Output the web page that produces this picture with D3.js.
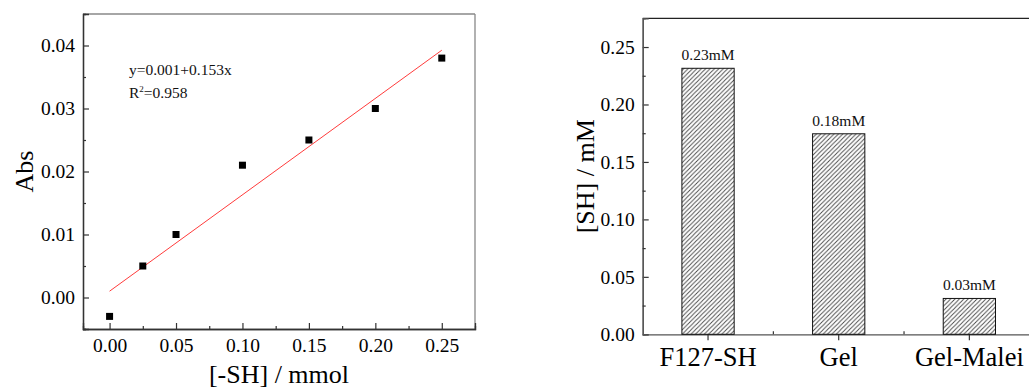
<!DOCTYPE html>
<html>
<head>
<meta charset="utf-8">
<script src="https://cdn.jsdelivr.net/npm/d3@7.9.0/dist/d3.min.js"></script>
<style>
  body { margin: 0; background: #fff; }
  svg text { font-family: 'Liberation Serif', 'Times New Roman', serif; }
</style>
</head>
<body>
<svg id="chart" width="1029" height="391"></svg>
<script>
// calibration data (left)
const shConc = [0, 0.025, 0.05, 0.1, 0.15, 0.2, 0.25];
const absVals = [-0.003, 0.005, 0.01, 0.021, 0.025, 0.03, 0.038];
const fitIntercept = 0.001;
const fitSlope = 0.153;
const xTicks = [0, 0.05, 0.1, 0.15, 0.2, 0.25];
const yTicks = [0, 0.01, 0.02, 0.03, 0.04];

// thiol content (right)
const samples = ['F127-SH', 'Gel', 'Gel-Malei'];
const shContent = [0.2315, 0.1745, 0.0312];
const barLabels = ['0.23mM', '0.18mM', '0.03mM'];
const barTicks = [0, 0.05, 0.1, 0.15, 0.2, 0.25];

const serif = "'Liberation Serif', 'Times New Roman', serif";
const svg = d3.select('#chart');

const defs = svg.append('defs');
defs.append('pattern')
  .attr('id', 'hatch')
  .attr('patternUnits', 'userSpaceOnUse')
  .attr('width', 4.4)
  .attr('height', 4.4)
  .append('path')
  .attr('d', 'M-1.1,1.1 l2.2,-2.2 M0,4.4 l4.4,-4.4 M3.3,5.5 l2.2,-2.2')
  .attr('stroke', '#444')
  .attr('stroke-width', 0.9);

// ---------- left: scatter + fit ----------
const L = { left: 83, right: 475, top: 14, bottom: 329 };
const x = d3.scaleLinear().domain([-0.02, 0.275]).range([L.left, L.right]);
const y = d3.scaleLinear().domain([-0.005, 0.045]).range([L.bottom, L.top]);

const gl = svg.append('g');

// frame
gl.append('line').attr('x1', L.left).attr('x2', L.right).attr('y1', L.top).attr('y2', L.top)
  .attr('stroke', '#888').attr('stroke-width', 1.3);
gl.append('line').attr('x1', L.right).attr('x2', L.right).attr('y1', L.top).attr('y2', L.bottom)
  .attr('stroke', '#888').attr('stroke-width', 1.3);

gl.append('g').attr('transform', `translate(${L.left},0)`)
  .call(d3.axisLeft(y).tickValues(yTicks).tickSize(-6).tickPadding(8).tickFormat(d3.format('.2f')));
gl.append('g').attr('transform', `translate(${L.left},0)`)
  .call(d3.axisLeft(y).tickValues(d3.range(-0.005, 0.045, 0.01)).tickSize(-3).tickFormat(''));
gl.append('g').attr('transform', `translate(0,${L.bottom})`)
  .call(d3.axisBottom(x).tickValues(xTicks).tickSize(-6).tickPadding(9).tickFormat(d3.format('.2f')));
gl.append('g').attr('transform', `translate(0,${L.bottom})`)
  .call(d3.axisBottom(x).tickValues([0.025, 0.075, 0.125, 0.175, 0.225]).tickSize(-3).tickFormat(''));

gl.selectAll('.domain').attr('stroke', '#333').attr('stroke-width', 1.3);
gl.selectAll('.tick line').attr('stroke', '#333').attr('stroke-width', 1.2);
gl.selectAll('.tick text').attr('font-size', 19.5).attr('fill', '#000');

// fit line
gl.append('line')
  .attr('x1', x(0)).attr('y1', y(fitIntercept))
  .attr('x2', x(0.25)).attr('y2', y(fitIntercept + fitSlope * 0.25))
  .attr('stroke', '#ff3b3b').attr('stroke-width', 1);

// points
gl.selectAll('rect.pt').data(shConc).join('rect')
  .attr('class', 'pt')
  .attr('x', d => x(d) - 3.5)
  .attr('y', (d, i) => y(absVals[i]) - 3.5)
  .attr('width', 7).attr('height', 7)
  .attr('fill', '#000');

// equation
gl.append('text').attr('x', 129).attr('y', 75).attr('font-size', 15.5).attr('fill', '#111')
  .text('y=0.001+0.153x');
const r2 = gl.append('text').attr('x', 129).attr('y', 98).attr('font-size', 15.5).attr('fill', '#111');
r2.append('tspan').text('R');
r2.append('tspan').attr('font-size', 9).attr('dy', -6).text('2');
r2.append('tspan').attr('dy', 6).text('=0.958');

// axis titles
gl.append('text')
  .attr('transform', `translate(33,${(L.top + L.bottom) / 2}) rotate(-90)`)
  .attr('text-anchor', 'middle').attr('font-size', 26).attr('fill', '#000')
  .text('Abs');
gl.append('text')
  .attr('x', (L.left + L.right) / 2).attr('y', 383)
  .attr('text-anchor', 'middle').attr('font-size', 26).attr('fill', '#000')
  .text('[-SH] / mmol');

// ---------- right: hatched bars ----------
const R = { left: 642.7, right: 1034.7, top: 18.3, bottom: 334.3 };
const xb = d3.scaleBand().domain(samples).range([R.left, R.right]).padding(0);
const yb = d3.scaleLinear().domain([0, 0.275]).range([R.bottom, R.top]);
const barW = xb.bandwidth() * 0.4;

const gr = svg.append('g');

gr.append('line').attr('x1', R.left).attr('x2', R.right).attr('y1', R.top).attr('y2', R.top)
  .attr('stroke', '#222').attr('stroke-width', 1.3);

gr.append('g').attr('transform', `translate(${R.left},0)`)
  .call(d3.axisLeft(yb).tickValues(barTicks).tickSize(-6).tickPadding(8).tickFormat(d3.format('.2f')));
gr.append('g').attr('transform', `translate(${R.left},0)`)
  .call(d3.axisLeft(yb).tickValues([0.025, 0.075, 0.125, 0.175, 0.225]).tickSize(-3).tickFormat(''));
gr.append('g').attr('transform', `translate(0,${R.bottom})`)
  .call(d3.axisBottom(xb).tickSize(6).tickPadding(7).tickSizeOuter(0));

// minor ticks between categories
gr.selectAll('line.minor').data(samples.slice(1)).join('line')
  .attr('class', 'minor')
  .attr('x1', d => xb(d)).attr('x2', d => xb(d))
  .attr('y1', R.bottom).attr('y2', R.bottom - 3)
  .attr('stroke', '#333').attr('stroke-width', 1.2);

gr.selectAll('.domain').attr('stroke', '#555').attr('stroke-width', 1.3);
gr.selectAll('.tick line').attr('stroke', '#333').attr('stroke-width', 1.2);
gr.selectAll('.tick text').attr('fill', '#000')
  .attr('font-size', d => (typeof d === 'string' ? 26.5 : 19.5));

gr.selectAll('rect.bar').data(samples).join('rect')
  .attr('class', 'bar')
  .attr('x', d => xb(d) + xb.bandwidth() / 2 - barW / 2)
  .attr('y', (d, i) => yb(shContent[i]))
  .attr('width', barW)
  .attr('height', (d, i) => R.bottom - yb(shContent[i]))
  .attr('fill', 'url(#hatch)')
  .attr('stroke', '#111').attr('stroke-width', 1);

gr.selectAll('text.val').data(samples).join('text')
  .attr('class', 'val')
  .attr('x', d => xb(d) + xb.bandwidth() / 2)
  .attr('y', (d, i) => yb(shContent[i]) - 8)
  .attr('text-anchor', 'middle').attr('font-size', 15.5).attr('fill', '#111')
  .text((d, i) => barLabels[i]);

gr.append('text')
  .attr('transform', `translate(594,${(R.top + R.bottom) / 2}) rotate(-90)`)
  .attr('text-anchor', 'middle').attr('font-size', 26).attr('fill', '#000')
  .text('[SH] / mM');

// axes set their own sans-serif family; force the serif face everywhere
svg.selectAll('g').attr('font-family', null);
svg.selectAll('text').style('font-family', serif);
</script>
</body>
</html>
